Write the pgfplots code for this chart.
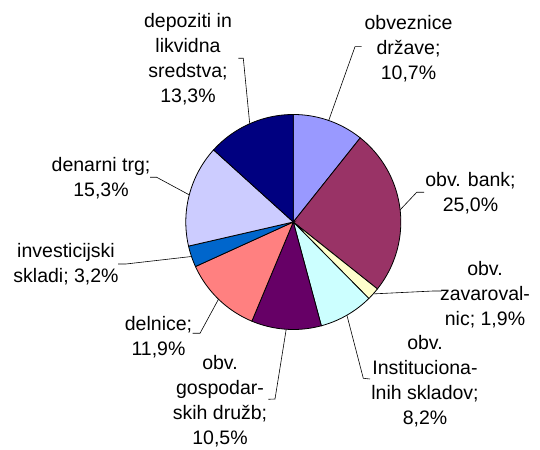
\documentclass[border=0pt]{standalone}
\usepackage{pgfplots}
\pgfplotsset{compat=1.18}
\usepgfplotslibrary{polar}
\usepackage{fontspec}
\setmainfont{Liberation Sans}
\definecolor{c1}{HTML}{9999FF}
\definecolor{c2}{HTML}{993366}
\definecolor{c3}{HTML}{FFFFCC}
\definecolor{c4}{HTML}{CCFFFF}
\definecolor{c5}{HTML}{660066}
\definecolor{c6}{HTML}{FF8080}
\definecolor{c7}{HTML}{0066CC}
\definecolor{c8}{HTML}{CCCCFF}
\definecolor{c9}{HTML}{000080}
% #1 = cumulative share before the slice (%), #2 = slice share (%), #3 = colour
\newcommand{\pieslice}[3]{%
  \addplot[draw=black, line width=0.8pt, fill=#3, data cs=polar,
    domain={90-3.6*(#1+#2)}:{90-3.6*(#1)}, samples=90]
    ({x},{107.5}) -- (axis cs:0,0) -- cycle;}
\newcommand{\lab}[3]{\node[anchor=north, align=center, inner sep=0pt,
  font=\fontsize{19.5bp}{25bp}\selectfont] at (axis cs:#1,#2) {\strut #3};}
\begin{document}
\begin{tikzpicture}
\begin{axis}[hide axis, scale only axis, width=540bp, height=450bp,
  xmin=-293.3, xmax=246.7, ymin=-228, ymax=222, clip=false]
\pieslice{0}{10.7}{c1}
\pieslice{10.7}{25.0}{c2}
\pieslice{35.7}{1.9}{c3}
\pieslice{37.6}{8.2}{c4}
\pieslice{45.8}{10.5}{c5}
\pieslice{56.3}{11.9}{c6}
\pieslice{68.2}{3.2}{c7}
\pieslice{71.4}{15.3}{c8}
\pieslice{86.7}{13.3}{c9}
% leader lines
\draw[black, line width=0.6pt] (axis cs:68.4,175.3) -- (axis cs:61.7,175.3) -- (axis cs:35.4,101.5);
\draw[black, line width=0.6pt] (axis cs:-55,163.7) -- (axis cs:-50,163.7) -- (axis cs:-43.6,98.3);
\draw[black, line width=0.6pt] (axis cs:130.7,29.7) -- (axis cs:123.4,29.7) -- (axis cs:106.8,12.1);
\draw[black, line width=0.6pt] (axis cs:148.4,-69) -- (axis cs:140,-69) -- (axis cs:80,-71.9);
\draw[black, line width=0.6pt] (axis cs:76.7,-157) -- (axis cs:70,-156.3) -- (axis cs:53.6,-93.2);
\draw[black, line width=0.6pt] (axis cs:-25,-177.3) -- (axis cs:-18.3,-177) -- (axis cs:-7.1,-107.3);
\draw[black, line width=0.6pt] (axis cs:-100.6,-111.3) -- (axis cs:-93.3,-111.3) -- (axis cs:-74.8,-77.2);
\draw[black, line width=0.6pt] (axis cs:-175.3,-42) -- (axis cs:-167.3,-42) -- (axis cs:-101.8,-34.5);
\draw[black, line width=0.6pt] (axis cs:-143.3,44.7) -- (axis cs:-136.6,44.7) -- (axis cs:-104.0,27.1);
% labels
\lab{115.2}{210.2}{obveznice\\države;\\10,7\%}
\lab{-105.3}{212.5}{depoziti in\\likvidna\\sredstva;\\13,3\%}
\lab{177.2}{52.8}{obv. bank;\\25,0\%}
\lab{191.7}{-35.5}{obv.\\zavaroval-\\nic; 1,9\%}
\lab{131.7}{-109.5}{obv.\\Instituciona-\\lnih skladov;\\8,2\%}
\lab{-73.3}{-129.5}{obv.\\gospodar-\\skih družb;\\10,5\%}
\lab{-134.8}{-90.5}{delnice;\\11,9\%}
\lab{-227.3}{-18}{investicijski\\skladi; 3,2\%}
\lab{-192.3}{68}{denarni trg;\\15,3\%}
\end{axis}
\path (current axis.south west) (current axis.north east);
\end{tikzpicture}
\end{document}
